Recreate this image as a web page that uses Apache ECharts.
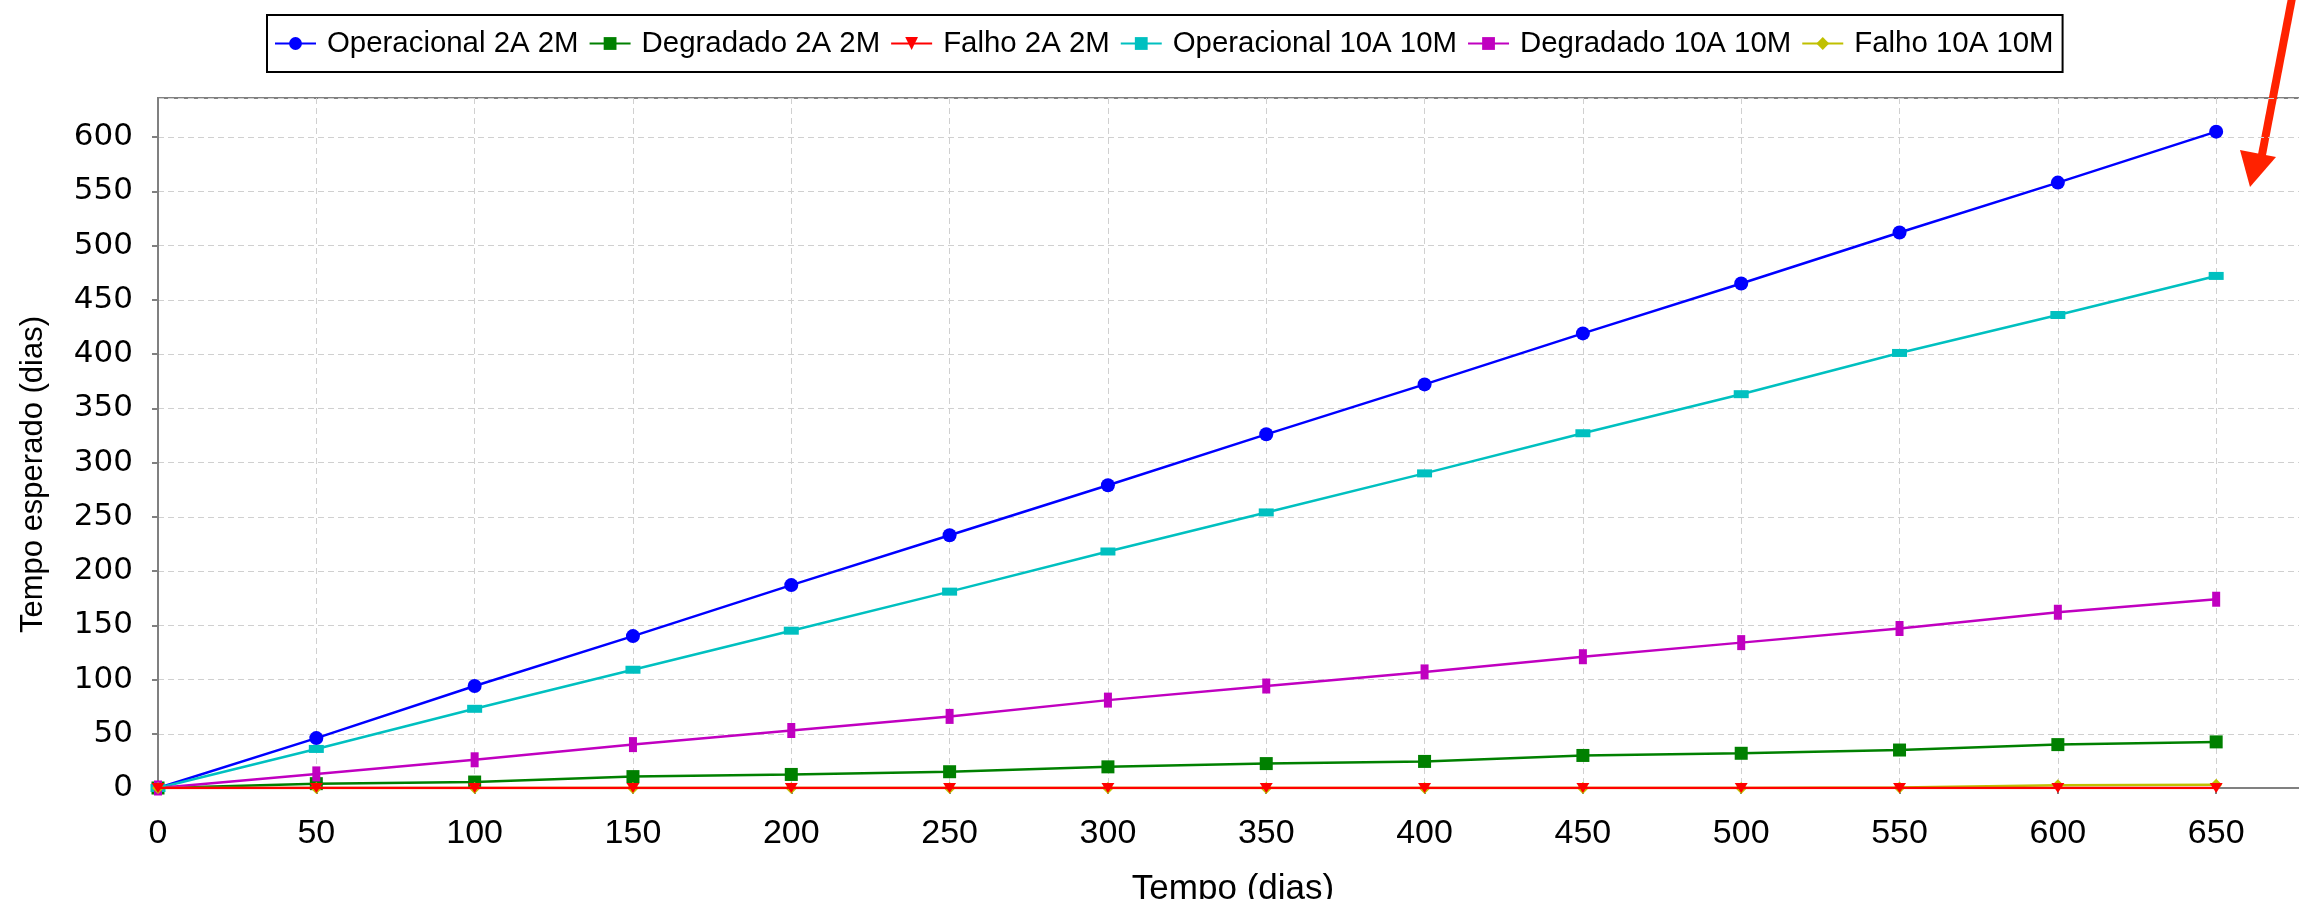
<!DOCTYPE html>
<html>
<head>
<meta charset="utf-8">
<script src="https://cdn.jsdelivr.net/npm/echarts@6/dist/echarts.min.js"></script>
<style>
html,body{margin:0;padding:0;background:#fff;}
#chart{width:2299px;height:899px;}
</style>
</head>
<body>
<div id="chart"></div>
<script>
// ---- data ----
const days = [0, 50, 100, 150, 200, 250, 300, 350, 400, 450, 500, 550, 600, 650];
const seriesNames = ['Operacional 2A 2M', 'Degradado 2A 2M', 'Falho 2A 2M', 'Operacional 10A 10M', 'Degradado 10A 10M', 'Falho 10A 10M'];
const operacional2A = [0, 46, 94, 140, 187, 233, 279, 326, 372, 419, 465, 512, 558, 605];
const degradado2A   = [0, 4, 5.5, 10.5, 12.5, 15, 19.5, 22.5, 24.5, 30, 32, 35, 40, 42.5];
const falho2A       = [0, 0, 0, 0, 0, 0, 0, 0, 0, 0, 0, 0, 0, 0];
const operacional10A= [0, 36, 73, 109, 145, 181, 218, 254, 290, 327, 363, 401, 436, 472];
const degradado10A  = [0, 13, 26, 40, 53, 66, 81, 94, 107, 121, 134, 147, 162, 174];
const falho10A      = [0, 0, 0, 0, 0, 0, 0, 0, 0, 0, 0, 0.5, 2.5, 3];
const xTicks = [0, 50, 100, 150, 200, 250, 300, 350, 400, 450, 500, 550, 600, 650];
const yTicks = [0, 50, 100, 150, 200, 250, 300, 350, 400, 450, 500, 550, 600];

const valuesList = [operacional2A, degradado2A, falho2A, operacional10A, degradado10A, falho10A];
const colors = ['#0000ff', '#008000', '#ff0000', '#00c0c0', '#c000c0', '#c0c000'];
const symbols = ['circle', 'rect', 'triangle', 'rect', 'rect', 'diamond'];
const symbolSizes = [14, 13, [13, 10], [15, 8], [8, 15], 12];
const symbolRotates = [0, 0, 180, 0, 0, 0];
const zOrder = [2, 2, 4, 2, 2, 3];

const chart = echarts.init(document.getElementById('chart'), null, {renderer: 'canvas'});
const FONT = '"Liberation Sans", Arial, sans-serif';

const series = seriesNames.map((name, i) => ({
  name: name,
  type: 'line',
  data: days.map((d, j) => [d, valuesList[i][j]]),
  symbol: symbols[i],
  symbolSize: symbolSizes[i],
  symbolRotate: symbolRotates[i],
  showAllSymbol: true,
  z: zOrder[i],
  color: colors[i],
  lineStyle: {width: 2.5, color: colors[i]},
  itemStyle: {color: colors[i]},
  emphasis: {disabled: true}
}));

chart.setOption({
  animation: false,
  backgroundColor: '#ffffff',
  legend: {
    data: seriesNames,
    left: 267,
    top: 15,
    padding: [14, 9, 14, 7],
    itemGap: 10,
    itemWidth: 41,
    itemHeight: 16,
    borderColor: '#000',
    borderWidth: 2,
    textStyle: {fontFamily: FONT, fontSize: 29.4, color: '#000', padding: [0, 0, 0, 6]}
  },
  grid: {left: 158, top: 98, width: 2150, bottom: 111, show: true, borderColor: '#808080', borderWidth: 2,
    backgroundColor: '#fff', containLabel: false, outerBoundsMode: 'none'},
  xAxis: {
    type: 'value',
    min: 0, max: 679, interval: 50,
    offset: 12,
    name: 'Tempo (dias)',
    nameLocation: 'middle',
    nameGap: 72,
    nameTextStyle: {fontFamily: FONT, fontSize: 35, color: '#000'},
    axisLine: {show: true, lineStyle: {color: '#808080', width: 2}},
    axisTick: {show: true, length: 6, lineStyle: {color: '#808080', width: 2}},
    axisLabel: {fontFamily: FONT, fontSize: 34, color: '#000', margin: 17, showMaxLabel: false,
      formatter: v => xTicks.includes(v) ? String(v) : ''},
    splitLine: {show: true, lineStyle: {color: '#d0d0d0', width: 1, type: [6, 4]}}
  },
  yAxis: {
    type: 'value',
    min: 0, max: 636, interval: 50,
    offset: 11,
    name: 'Tempo esperado (dias)',
    nameLocation: 'middle',
    nameGap: 98,
    nameRotate: 90,
    nameTextStyle: {fontFamily: FONT, fontSize: 31, color: '#000', padding: [0, 63, 0, 0]},
    axisLine: {show: true, lineStyle: {color: '#808080', width: 2}},
    axisTick: {show: true, length: 6, lineStyle: {color: '#808080', width: 2}},
    axisLabel: {fontFamily: '"DejaVu Sans", sans-serif', fontSize: 31, color: '#000', margin: 14, showMaxLabel: false,
      formatter: v => yTicks.includes(v) ? String(v) : ''},
    splitLine: {show: true, lineStyle: {color: '#d0d0d0', width: 1, type: [6, 4]}}
  },
  graphic: [
    {type: 'line', shape: {x1: 2292, y1: -2, x2: 2261, y2: 160}, style: {stroke: '#ff2200', lineWidth: 8}},
    {type: 'polygon', shape: {points: [[2240, 150], [2276, 157], [2250, 187]]}, style: {fill: '#ff2200'}}
  ],
  series: series
});
</script>
</body>
</html>
